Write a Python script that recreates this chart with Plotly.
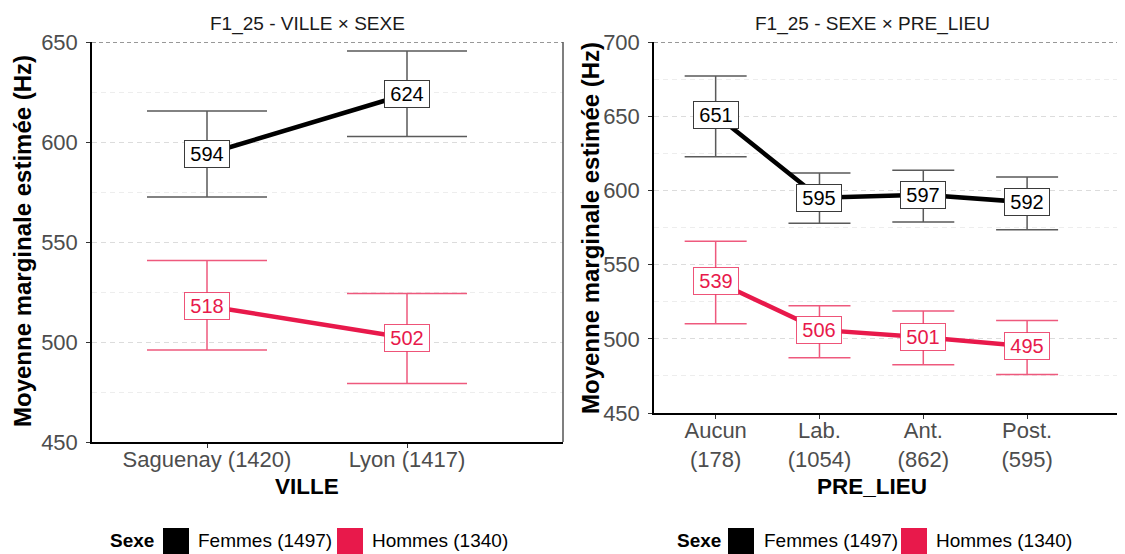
import plotly.graph_objects as go

# ---------------- data ----------------
villes = ["Saguenay (1420)", "Lyon (1417)"]
f_ville = [594, 624]
f_ville_lo = [572.5, 602.7]
f_ville_hi = [615.5, 645.5]
h_ville = [518, 502]
h_ville_lo = [496.0, 479.3]
h_ville_hi = [540.8, 524.2]

lieux = ["Aucun<br>(178)", "Lab.<br>(1054)", "Ant.<br>(862)", "Post.<br>(595)"]
f_lieu = [651, 595, 597, 592]
f_lieu_lo = [622.7, 577.8, 578.7, 573.5]
f_lieu_hi = [677.1, 611.7, 613.5, 609.0]
h_lieu = [539, 506, 501, 495]
h_lieu_lo = [510.2, 487.3, 482.5, 476.0]
h_lieu_hi = [565.7, 522.3, 518.7, 512.4]

series_names = ["Femmes (1497)", "Hommes (1340)"]
titles = ["F1_25 - VILLE × SEXE", "F1_25 - SEXE × PRE_LIEU"]
xtitles = ["VILLE", "PRE_LIEU"]
ytitle = "Moyenne marginale estimée (Hz)"

# ---------------- style ----------------
W, H = 1125, 554
OFF = 8  # page body margin offset
FONT = "Liberation Sans, Arial, sans-serif"
BLACK = "#000000"
RED = "#E8194B"
EB_F = "#5A5A5A"
EB_H = "rgba(232,25,75,0.72)"
BOX_F = "#3A3A3A"
BOX_H = "rgba(232,25,75,0.75)"


def px(x):
    return (x - OFF) / W


def py(y):
    return 1 - (y - OFF) / H


fig = go.Figure()

panels = [
    dict(cats=villes, data=[(f_ville, f_ville_lo, f_ville_hi), (h_ville, h_ville_lo, h_ville_hi)],
         xa="x", ya="y", cap=60),
    dict(cats=lieux, data=[(f_lieu, f_lieu_lo, f_lieu_hi), (h_lieu, h_lieu_lo, h_lieu_hi)],
         xa="x2", ya="y2", cap=31),
]

line_cols = [BLACK, RED]
eb_cols = [EB_F, EB_H]
box_cols = [BOX_F, BOX_H]

annotations = []
for p in panels:
    for si, (vals, lo, hi) in enumerate(p["data"]):
        fig.add_trace(go.Scatter(
            x=p["cats"], y=vals, mode="lines", name=series_names[si],
            line=dict(color=line_cols[si], width=4.5),
            error_y=dict(type="data", symmetric=False,
                         array=[h - v for h, v in zip(hi, vals)],
                         arrayminus=[v - l for v, l in zip(vals, lo)],
                         color=eb_cols[si], thickness=1.5, width=p["cap"]),
            xaxis=p["xa"], yaxis=p["ya"], showlegend=False, hoverinfo="skip",
        ))
        for c, v in zip(p["cats"], vals):
            annotations.append(dict(
                x=c, y=v, xref=p["xa"], yref=p["ya"], text=f"{round(v)}",
                xanchor="center", yanchor="middle",
                showarrow=False, font=dict(family=FONT, size=20, color=line_cols[si]),
                bgcolor="white", bordercolor=box_cols[si], borderwidth=1, borderpad=3,
                width=38, height=20,
            ))


def paper_text(x, y, text, size, color=BLACK, xanchor="center", angle=0):
    return dict(x=px(x), y=py(y), xref="paper", yref="paper", text=text, showarrow=False,
                xanchor=xanchor, yanchor="middle", textangle=angle,
                font=dict(family=FONT, size=size, color=color))


# panel titles, axis titles
title_x = [307, 872]
for i in range(2):
    annotations.append(paper_text(title_x[i], 24, titles[i], 19, "#1A1A1A"))
    annotations.append(paper_text(title_x[i], 486, f"<b>{xtitles[i]}</b>", 22.5))
annotations.append(paper_text(22, 241, f"<b>{ytitle}</b>", 24, angle=-90))
annotations.append(paper_text(590, 228, f"<b>{ytitle}</b>", 24, angle=-90))

# legends (one per panel)
shapes = []
legends = [
    dict(sexe=108, sw=[163, 337], txt=[196, 370]),
    dict(sexe=675, sw=[728, 901], txt=[762, 934]),
]
for lg in legends:
    annotations.append(paper_text(lg["sexe"], 540, "<b>Sexe</b>", 19, xanchor="left"))
    for si in range(2):
        shapes.append(dict(type="rect", xref="paper", yref="paper",
                           x0=px(lg["sw"][si]), x1=px(lg["sw"][si] + 26),
                           y0=py(556), y1=py(528), fillcolor=line_cols[si],
                           line=dict(width=0)))
        annotations.append(paper_text(lg["txt"][si], 540, series_names[si], 19, xanchor="left"))

# top dashed border lines and right border of left panel
shapes.append(dict(type="line", xref="x domain", yref="y", x0=0, x1=1, y0=650, y1=650,
                   line=dict(color="#333333", width=1, dash="4px,3px")))
shapes.append(dict(type="line", xref="x2 domain", yref="y2", x0=0, x1=1, y0=700, y1=700,
                   line=dict(color="#333333", width=1, dash="4px,3px")))
shapes.append(dict(type="line", xref="x domain", yref="y domain", x0=1, x1=1, y0=0, y1=1,
                   line=dict(color="#555555", width=1.5)))

axis_common = dict(
    showline=True, linecolor=BLACK, linewidth=1.5,
    ticks="outside", ticklen=4, tickcolor="#333333", tickwidth=1,
    tickfont=dict(family=FONT, size=22, color="#4D4D4D"),
    zeroline=False, automargin=False,
)
yaxis_common = dict(
    axis_common, dtick=50, showgrid=True, gridcolor="#DCDCDC", griddash="5px,4px", gridwidth=1,
    minor=dict(dtick=25, showgrid=True, gridcolor="#EDEDED", griddash="5px,4px", gridwidth=1),
    ticklabelstandoff=4,
)

fig.update_layout(
    width=W, height=H, autosize=False,
    margin=dict(l=0, r=0, t=0, b=0, autoexpand=False),
    paper_bgcolor="white", plot_bgcolor="white",
    showlegend=False,
    xaxis=dict(axis_common, type="category", domain=[px(92), px(563)], range=[-0.575, 1.78],
               anchor="y", showgrid=False, ticklabelstandoff=-7),
    yaxis=dict(yaxis_common, domain=[py(442), py(42)], range=[450, 650], anchor="x",
               tickvals=[450, 500, 550, 600, 650]),
    xaxis2=dict(axis_common, type="category", domain=[px(654), px(1125)], range=[-0.594, 3.943],
                anchor="y2", showgrid=False, ticklabelstandoff=-7),
    yaxis2=dict(yaxis_common, domain=[py(413), py(42)], range=[450, 700], anchor="x2",
                tickvals=[450, 500, 550, 600, 650, 700]),
    annotations=annotations,
    shapes=shapes,
)

fig.write_html("out.html")
